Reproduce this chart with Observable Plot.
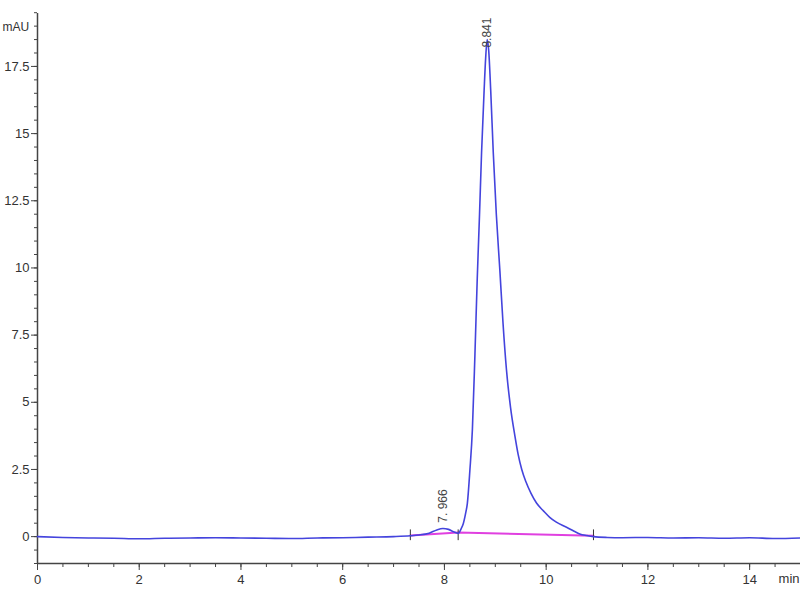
<!DOCTYPE html>
<html>
<head>
<meta charset="utf-8">
<script src="https://cdn.jsdelivr.net/npm/d3@7"></script>
<script src="https://cdn.jsdelivr.net/npm/@observablehq/plot@0.6"></script>
<style>
  html, body { margin: 0; padding: 0; background: #fff; }
  #chart { width: 800px; height: 600px; }
</style>
</head>
<body>
<div id="chart"></div>
<script>
// Chromatogram signal (time in min, signal in mAU)
const times = [0, 0.5, 1, 1.5, 2, 2.5, 3, 3.5, 4, 4.5, 5, 5.5, 6, 6.5, 7, 7.33, 7.5, 7.7, 7.85, 7.97, 8.08, 8.18, 8.27, 8.33, 8.37, 8.42, 8.45, 8.5, 8.55, 8.6, 8.645, 8.69, 8.73, 8.78, 8.81, 8.841, 8.87, 8.91, 8.96, 9.02, 9.09, 9.15, 9.22, 9.3, 9.385, 9.45, 9.52, 9.6, 9.7, 9.81, 9.95, 10.07, 10.2, 10.4, 10.55, 10.66, 10.8, 10.93, 11.2, 11.5, 12, 12.5, 13, 13.5, 14, 14.5, 15];
const signal = [0.0, -0.03, -0.05, -0.06, -0.08, -0.06, -0.05, -0.04, -0.05, -0.06, -0.07, -0.05, -0.04, -0.02, 0.0, 0.03, 0.06, 0.13, 0.25, 0.3, 0.27, 0.18, 0.12, 0.3, 0.48, 0.9, 1.23, 2.46, 4.0, 6.8, 9.6, 12.0, 14.3, 16.6, 17.8, 18.5, 18.1, 16.6, 14.3, 12.0, 9.9, 8.0, 6.2, 4.8, 3.75, 3.05, 2.5, 2.05, 1.62, 1.25, 0.95, 0.72, 0.54, 0.35, 0.2, 0.1, 0.04, 0.0, -0.03, -0.04, -0.03, -0.05, -0.04, -0.06, -0.04, -0.07, -0.05];

// Integration baseline (peak start, valley, peak end)
const baseTimes = [7.33, 8.27, 10.93];
const baseValues = [0.04, 0.15, 0.03];

// Peak labels
const peakTimes = [7.966, 8.841];
const peakLabels = ["7. 966", "8.841"];
const peakLabelY = [0.52, 18.2];

// Axis ticks
const xTicks = [0, 2, 4, 6, 8, 10, 12, 14];
const yTicks = [0, 2.5, 5, 7.5, 10, 12.5, 15, 17.5];
const xMinor = d3.range(0, 15.01, 0.5);
const yMinor = d3.range(-1, 19.51, 0.5);

const trace = times.map((t, i) => ({t, v: signal[i]}));
const base = baseTimes.map((t, i) => ({t, v: baseValues[i]}));
const peaks = peakTimes.map((t, i) => ({t, label: peakLabels[i], y: peakLabelY[i]}));

const axisColor = "#444";
const textColor = "#333";
const font = "Liberation Sans, Arial, sans-serif";

const chart = Plot.plot({
  width: 800,
  height: 600,
  marginLeft: 37,
  marginRight: 0,
  marginTop: 13,
  marginBottom: 37,
  style: {fontFamily: font, fontSize: "12px", color: textColor, background: "#fff"},
  x: {domain: [0, 15]},
  y: {domain: [-1, 19.47]},
  marks: [
    // minor ticks
    Plot.axisX({ticks: xMinor, tickSize: 4, text: null, label: null, stroke: axisColor}),
    Plot.axisY({ticks: yMinor, tickSize: 3, text: null, label: null, stroke: axisColor}),
    // major ticks
    Plot.axisX({ticks: xTicks, tickSize: 7, tickPadding: 4, tickFormat: d => String(d), label: null, stroke: axisColor, fill: textColor, fontSize: 13}),
    Plot.axisY({ticks: yTicks, tickSize: 6, tickPadding: 2, tickFormat: d => String(d), label: null, stroke: axisColor, fill: textColor, fontSize: 13}),
    // axis lines
    Plot.ruleX([0], {stroke: axisColor, strokeWidth: 1.5}),
    Plot.ruleY([-1], {stroke: axisColor, strokeWidth: 1.5}),
    // baseline
    Plot.line(base, {x: "t", y: "v", stroke: "#e040e0", strokeWidth: 2}),
    Plot.ruleX(baseTimes, {y1: -0.15, y2: 0.25, stroke: "#333", strokeWidth: 1}),
    // trace
    Plot.line(trace, {x: "t", y: "v", stroke: "#4444dd", strokeWidth: 1.6, curve: "monotone-x"}),
    // peak labels
    Plot.text(peaks, {x: "t", y: "y", text: "label", rotate: -90, textAnchor: "start", fill: "#444", fontSize: 12}),
    // unit labels
    Plot.text(["mAU"], {frameAnchor: "top-left", dx: -35, dy: 9, textAnchor: "start", fill: textColor, fontSize: 12}),
    Plot.text(["min"], {frameAnchor: "bottom-right", dx: -1, dy: 19, textAnchor: "end", fill: textColor, fontSize: 13})
  ]
});

document.getElementById("chart").appendChild(chart);
</script>
</body>
</html>
